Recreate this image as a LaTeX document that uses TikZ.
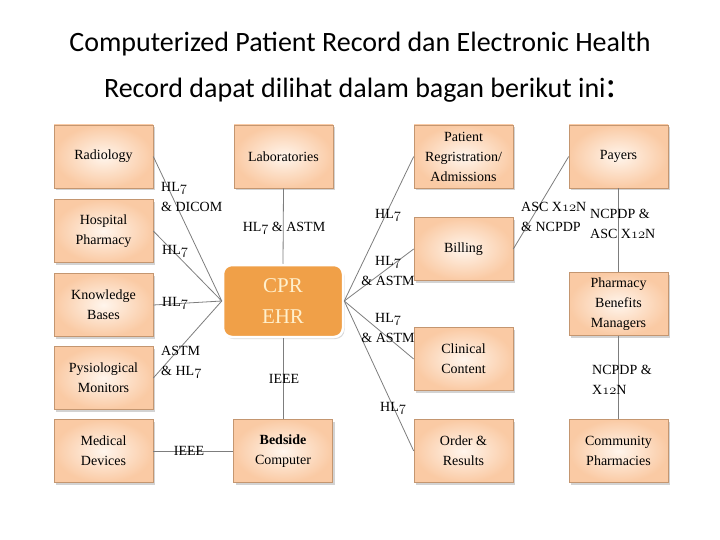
\documentclass[tikz,border=0pt]{standalone}
\usepackage{fontspec}
\setmainfont{Liberation Serif}
\newfontfamily\titlefont{Carlito}
\usepackage{tikz}
\usetikzlibrary{positioning, shadows}
\definecolor{boxinner}{RGB}{255,245,236}
\definecolor{boxouter}{RGB}{250,202,164}
\definecolor{boxedge}{RGB}{196,150,112}
\definecolor{cprorange}{RGB}{240,160,72}
\definecolor{cprtext}{RGB}{255,240,205}
\definecolor{linkgray}{RGB}{125,125,125}
\newcommand\osf[1]{{\usefont{OML}{cmm}{m}{it}#1}}
\newcommand\hlseven{HL\osf{7}}
\newcommand\xtwelve{X\osf{12}N}

\begin{document}
\begin{tikzpicture}[
    x=1pt, y=-1pt,
    sys/.style={
        rectangle, draw=boxedge, line width=0.6pt,
        shading=radial, inner color=boxinner, outer color=boxouter,
        minimum width=99pt, minimum height=63pt, inner sep=2pt,
        align=center, font=\fontsize{14}{20}\selectfont, text=black,
        drop shadow={shadow xshift=2pt, shadow yshift=-2.5pt, opacity=0.35}
    },
    cpr/.style={
        rectangle, rounded corners=9pt, fill=cprorange,
        draw=white, line width=2.5pt,
        minimum width=120pt, minimum height=72pt,
        align=center, font=\fontsize{21}{31}\selectfont, text=cprtext,
        drop shadow={shadow xshift=1.5pt, shadow yshift=-2pt, opacity=0.3}
    },
    link/.style={draw=linkgray, line width=0.8pt},
    proto/.style={font=\fontsize{14}{20}\selectfont, inner sep=0pt}
]
\useasboundingbox (0,0) rectangle (720,540);

% --- title ---
\node[font=\titlefont\fontsize{28}{46}\selectfont, align=center] (title) at (360,67)
    {Computerized Patient Record dan Electronic Health\\
     Record dapat dilihat dalam bagan berikut ini{\fontsize{38}{38}\selectfont :}};

% --- nodes ---
\node[sys] (radio)  at (103.5,156.5) {Radiology};
\node[sys] (hosp)   at (103.5,231)   {Hospital\\Pharmacy};
\node[sys] (know)   at (103.5,305)   {Knowledge\\Bases};
\node[sys] (monit)  at (103.5,378)   {Pysiological\\Monitors};
\node[sys] (medic)  at (103.5,451)   {Medical\\Devices};
\node[sys] (labs)   at (283.5,156.5) {Laboratories};
\node[sys] (bedside) at (283,451)    {\textbf{Bedside}\\Computer};
\node[cpr] (ehr)    at (283,301)     {CPR\\EHR};
\node[sys] (regis)  at (463.5,156.5) {Patient\\Regristration/\\Admissions};
\node[sys] (bill)   at (463.5,249)   {Billing};
\node[sys] (clin)   at (463.5,359)   {Clinical\\Content};
\node[sys] (order)  at (463.5,451)   {Order \&\\Results};
\node[sys] (payer)  at (618.5,156.5) {Payers};
\node[sys] (pbm)    at (618.5,304)   {Pharmacy\\Benefits\\Managers};
\node[sys] (comm)   at (618.5,451)   {Community\\Pharmacies};

% --- links: left side into CPR ---
\draw[link] (radio.east) -- (ehr.west);
\draw[link] (hosp.east)  -- (ehr.west);
\draw[link] (know.east)  -- (ehr.west);
\draw[link] (monit.east) -- (ehr.west);
\draw[link] (medic.east) -- (bedside.west);
\draw[link] (labs.south) -- (ehr.north);
\draw[link] (ehr.south)  -- (bedside.north);

% --- links: right side out of CPR ---
\draw[link] (ehr.east) -- (regis.west);
\draw[link] (ehr.east) -- (bill.west);
\draw[link] (ehr.east) -- (clin.west);
\draw[link] (ehr.east) -- (order.west);
\draw[link] (bill.east)  -- (payer.west);
\draw[link] (payer.south) -- (pbm.north);
\draw[link] (pbm.south)  -- (comm.north);

% --- protocol labels ---
\node[proto, anchor=west, align=left] (p1)  at (161,197) {\hlseven\\\& DICOM};
\node[proto, anchor=west] (p2)  at (162,251) {\hlseven};
\node[proto, anchor=west] (p3)  at (162,303) {\hlseven};
\node[proto, anchor=west, align=left] (p4)  at (161,362) {ASTM\\\& \hlseven};
\node[proto] (p5)  at (189,451) {IEEE};
\node[proto] (p6)  at (284,228) {\hlseven{} \& ASTM};
\node[proto] (p7)  at (284,379) {IEEE};
\node[proto, anchor=west] (p8)  at (375,215) {\hlseven};
\node[proto, align=center] (p9)  at (388,271) {\hlseven\\\& ASTM};
\node[proto, align=center] (p10) at (388,328) {\hlseven\\\& ASTM};
\node[proto, anchor=west] (p11) at (380,408) {\hlseven};
\node[proto, anchor=west, align=left] (p12) at (521,217) {ASC \xtwelve\\\& NCPDP};
\node[proto, anchor=west, align=left] (p13) at (590,224) {NCPDP \&\\ASC \xtwelve};
\node[proto, anchor=west, align=left] (p14) at (592,380) {NCPDP \&\\\xtwelve};

\end{tikzpicture}
\end{document}
